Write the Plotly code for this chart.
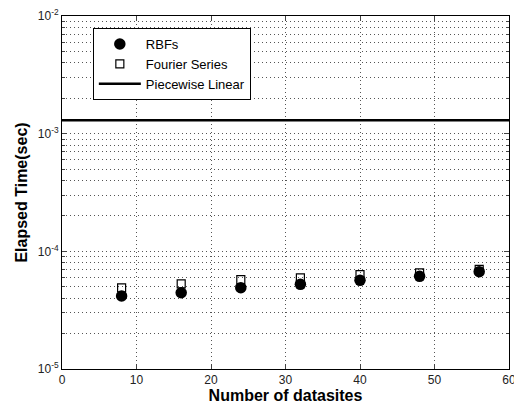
import plotly.graph_objects as go

# Data
datasites = [8, 16, 24, 32, 40, 48, 56]
rbf_time = [4.17e-5, 4.45e-5, 4.91e-5, 5.24e-5, 5.67e-5, 6.13e-5, 6.72e-5]
fourier_time = [4.89e-5, 5.29e-5, 5.75e-5, 5.95e-5, 6.35e-5, 6.56e-5, 7.03e-5]
piecewise_x = [0, 60]
piecewise_time = [1.3e-3, 1.3e-3]

x_ticks = [0, 10, 20, 30, 40, 50, 60]
y_decades = [1e-5, 1e-4, 1e-3, 1e-2]
y_tick_text = ["10<sup>-5</sup>", "10<sup>-4</sup>", "10<sup>-3</sup>", "10<sup>-2</sup>"]
y_minor = [k * d for d in y_decades[:-1] for k in range(2, 10)]

FONT = "Liberation Sans, Arial, sans-serif"
GRID = "#555555"
DASH = "1px,3px"

fig = go.Figure()
fig.add_trace(go.Scatter(
    x=datasites, y=fourier_time, mode="markers", name="Fourier Series",
    marker=dict(symbol="square-open", size=8, color="black", line=dict(width=1.2, color="black")),
    legendrank=2,
))
fig.add_trace(go.Scatter(
    x=datasites, y=rbf_time, mode="markers", name="RBFs",
    marker=dict(symbol="circle", size=11.5, color="black"),
    legendrank=1,
))
fig.add_trace(go.Scatter(
    x=piecewise_x, y=piecewise_time, mode="lines", name="Piecewise Linear",
    line=dict(color="black", width=2.5),
    legendrank=3,
))

fig.update_layout(
    width=514, height=411,
    margin=dict(l=62, r=5, t=16, b=42, autoexpand=False),
    paper_bgcolor="white", plot_bgcolor="white",
    font=dict(family=FONT, size=12, color="#111111"),
    showlegend=True,
    legend=dict(
        x=0.069, y=0.966, xanchor="left", yanchor="top",
        bgcolor="white", bordercolor="black", borderwidth=1,
        font=dict(family=FONT, size=13, color="black"),
        itemwidth=42,
        tracegroupgap=0,
    ),
)

fig.update_xaxes(
    range=[0, 60], tickvals=x_ticks, ticks="inside", ticklen=5,
    showline=True, linecolor="black", linewidth=1, mirror="ticks",
    showgrid=True, gridcolor=GRID, griddash=DASH, gridwidth=1,
    zeroline=False, automargin=False, ticklabeloverflow="allow",
    tickfont=dict(family=FONT, size=12, color="#222222"),
    title=dict(text="<b>Number of datasites</b>", font=dict(family=FONT, size=16, color="black"), standoff=2),
)
fig.update_yaxes(
    type="log", range=[-5, -2], tickvals=y_decades, ticktext=y_tick_text,
    ticks="inside", ticklen=5,
    showline=True, linecolor="black", linewidth=1, mirror="allticks",
    showgrid=True, gridcolor=GRID, griddash=DASH, gridwidth=1,
    minor=dict(tickvals=y_minor, ticks="inside", ticklen=3, showgrid=True,
               gridcolor=GRID, griddash=DASH, gridwidth=1),
    automargin=False,
    tickfont=dict(family=FONT, size=12, color="#222222"),
    title=dict(text="<b>Elapsed Time(sec)</b>", font=dict(family=FONT, size=16, color="black"), standoff=6),
)

fig.write_html(
    "out.html",
    config={"displayModeBar": False},
    post_script="document.body.style.margin='0';document.body.style.overflow='hidden';",
)
